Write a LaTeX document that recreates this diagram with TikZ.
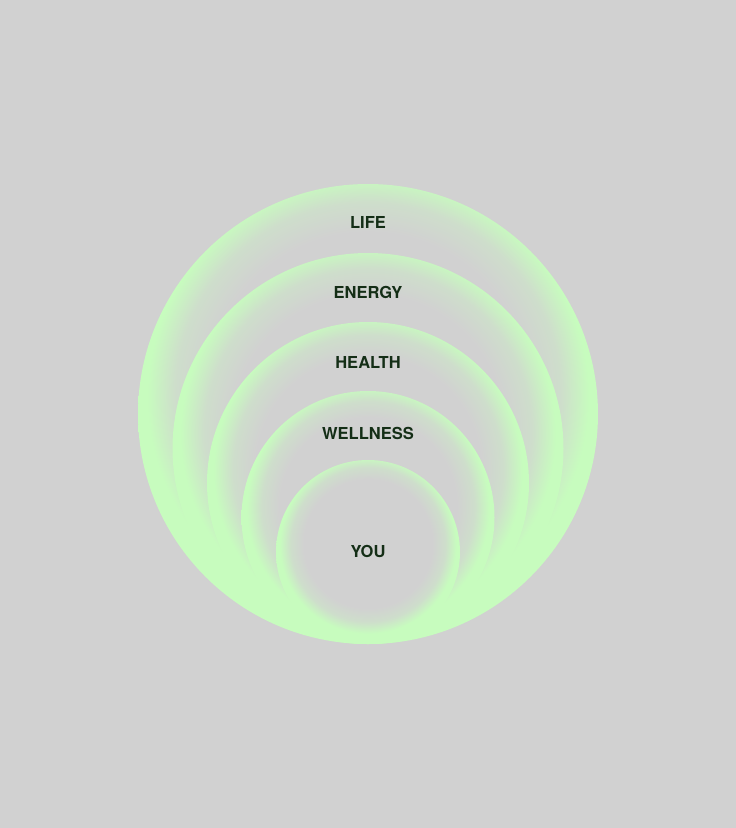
\documentclass[tikz,border=0pt]{standalone}
\usepackage{fontspec}
\setsansfont{TeX Gyre Heros}
\usepackage{xcolor}
\usepackage{tikz}

\definecolor{bggray}{RGB}{209,209,209}
\definecolor{glowgreen}{RGB}{199,252,190}
\colorlet{halfglow}{glowgreen!30!bggray}
\definecolor{inkgreen}{RGB}{20,46,22}

\pgfdeclareradialshading{ringglow}{\pgfpoint{0bp}{3.5bp}}{color(0bp)=(bggray); color(17.5bp)=(bggray); color(21bp)=(halfglow); color(24bp)=(glowgreen); color(50bp)=(glowgreen)}

\tikzset{
    ringlabel/.style={font=\sffamily\bfseries\fontsize{16.5}{18}\selectfont, text=inkgreen, anchor=base}
}

\begin{document}
\begin{tikzpicture}[x=1pt,y=-1pt]
    % background
    \fill[bggray] (0,0) rectangle (736,828);
    \useasboundingbox (0,0) rectangle (736,828);
    \foreach \r/\name/\txt/\y in {230/life/LIFE/228, 195.5/energy/ENERGY/298, 161/health/HEALTH/368, 126.5/wellness/WELLNESS/439, 92/you/YOU/557} {
        % circle resting on the common bottom point
        \node[circle, inner sep=0pt, minimum size=2*\r pt, shading=ringglow] (\name) at (368,644-\r) {};
        % label near the top of the circle
        \node[ringlabel] (\name-label) at (368,\y) {\txt};
    }
\end{tikzpicture}
\end{document}
